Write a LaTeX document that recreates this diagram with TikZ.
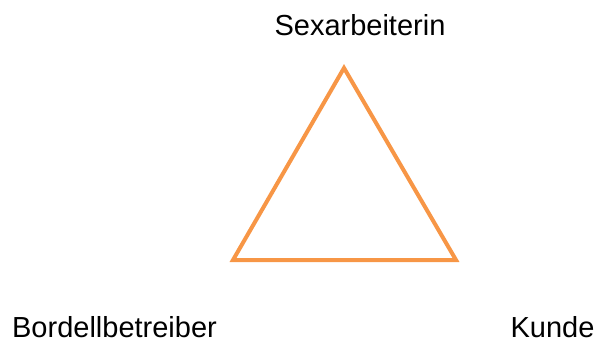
\documentclass[tikz,border=0pt]{standalone}
\usepackage{fontspec}
\setmainfont{Liberation Sans}
\usepackage{tikz}
\usetikzlibrary{positioning,calc}
\definecolor{triorange}{RGB}{247,150,70}

\begin{document}
\begin{tikzpicture}[x=1pt, y=-1pt, every node/.style={font=\fontsize{29}{34}\selectfont, inner sep=0pt}, lbl/.style={anchor=base}]
            \useasboundingbox (0,0) rectangle (598,341);

            % Corners of the triangle
            \coordinate (top) at (344,68);
            \coordinate (left) at (233,260);
            \coordinate (right) at (456,260);

            % Triangle
            \draw[triorange, line width=4pt] (top) -- (right) -- (left) -- cycle;

            % Labels
            \node[lbl] (worker) at (360,35) {Sexarbeiterin};
            \node[lbl] (owner) at (114.5,337) {Bordellbetreiber};
            \node[lbl] (client) at (552.5,337) {Kunde};
        \end{tikzpicture}
\end{document}
